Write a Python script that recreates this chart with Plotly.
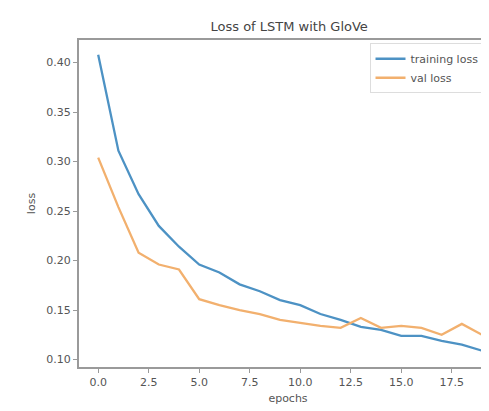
import plotly.graph_objects as go

epochs = list(range(20))
training_loss = [0.408, 0.311, 0.267, 0.235, 0.214, 0.196, 0.188, 0.176, 0.169, 0.160,
                 0.155, 0.146, 0.140, 0.133, 0.130, 0.124, 0.124, 0.119, 0.115, 0.109]
val_loss = [0.304, 0.254, 0.208, 0.196, 0.191, 0.161, 0.155, 0.150, 0.146, 0.140,
            0.137, 0.134, 0.132, 0.142, 0.132, 0.134, 0.132, 0.125, 0.136, 0.125]

x_ticks = [0, 2.5, 5, 7.5, 10, 12.5, 15, 17.5]
x_tick_labels = ["0.0", "2.5", "5.0", "7.5", "10.0", "12.5", "15.0", "17.5"]
y_ticks = [0.10, 0.15, 0.20, 0.25, 0.30, 0.35, 0.40]
y_tick_labels = ["0.10", "0.15", "0.20", "0.25", "0.30", "0.35", "0.40"]

fig = go.Figure()
fig.add_trace(go.Scatter(x=epochs, y=training_loss, mode="lines", name="training loss",
                         line=dict(color="#4d92c4", width=2.3)))
fig.add_trace(go.Scatter(x=epochs, y=val_loss, mode="lines", name="val loss",
                         line=dict(color="#f2b06e", width=2.3)))

font_col = "#555555"
fig.update_layout(
    width=489, height=411,
    margin=dict(l=71, r=0, t=32, b=52),
    paper_bgcolor="white", plot_bgcolor="white",
    font=dict(family="DejaVu Sans", size=11, color=font_col),
    title=dict(text="Loss of LSTM with GloVe", x=0.575, xanchor="center", y=0.955, yanchor="middle",
               font=dict(size=13, color="#444444")),
    showlegend=True,
    legend=dict(x=0.695, y=0.99, xanchor="left", yanchor="top",
                bgcolor="rgba(255,255,255,0.8)", bordercolor="#dddddd", borderwidth=1,
                font=dict(size=11, color=font_col)),
    xaxis=dict(range=[-0.95, 19.74], tickvals=x_ticks, ticktext=x_tick_labels,
               showgrid=False, zeroline=False, showline=True, linecolor="#9a9a9a", linewidth=2,
               mirror=True, ticks="outside", ticklen=4, tickcolor="#9a9a9a",
               title=dict(text="epochs", standoff=6, font=dict(size=11))),
    yaxis=dict(range=[0.0925, 0.4228], tickvals=y_ticks, ticktext=y_tick_labels,
               showgrid=False, zeroline=False, showline=True, linecolor="#9a9a9a", linewidth=2,
               ticks="outside", ticklen=4, tickcolor="#9a9a9a",
               title=dict(text="loss", standoff=8, font=dict(size=11))),
)

fig.write_html("out.html")
